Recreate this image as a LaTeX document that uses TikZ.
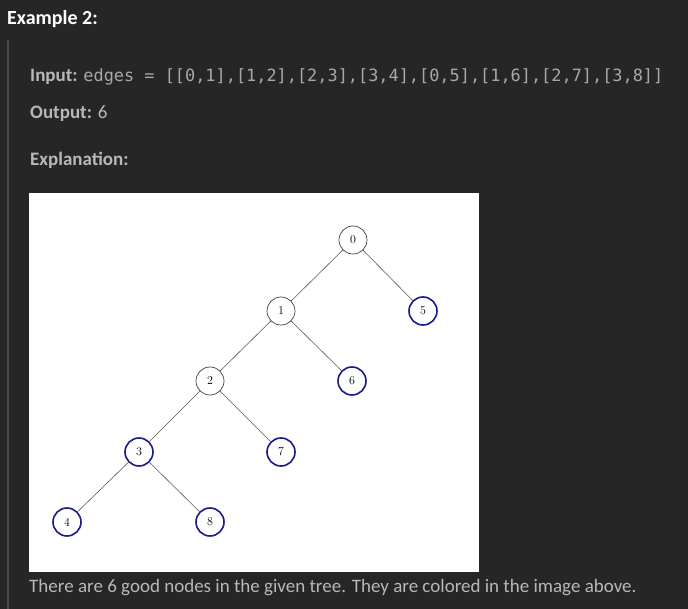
\documentclass[tikz,border=0pt]{standalone}
\usepackage{fontspec}
\setmainfont{Carlito}
\newfontfamily\codefont{DejaVu Sans Mono}
\newfontfamily\treefont{Latin Modern Roman}
\definecolor{pagebg}{HTML}{262626}
\definecolor{quotebar}{HTML}{474747}
\definecolor{bodytext}{HTML}{B8B8B8}
\definecolor{codetext}{HTML}{A8A8A8}
\definecolor{goodnode}{HTML}{1A1A8C}
\begin{document}
\begin{tikzpicture}[x=1pt,y=-1pt,
  every node/.style={inner sep=0pt},
  txt/.style={anchor=base west,text=bodytext,font=\fontsize{19}{22}\selectfont},
  plain/.style={circle,draw=black!75,line width=0.7pt,minimum size=28pt,fill=white,font=\treefont\fontsize{12}{14}\selectfont},
  good/.style={plain,draw=goodnode,line width=1.6pt},
  edge/.style={draw=black!65,line width=0.6pt}]
\useasboundingbox (0,0) rectangle (688,609);
\fill [pagebg] (0,0) rectangle (688,609);
\fill [quotebar] (7,40) rectangle (9,609);
\fill [white] (29,193) rectangle (479,572);
\node [txt,text=white,font=\bfseries\fontsize{20}{22}\selectfont] (title) at (7,25) {Example 2:};
\node [txt] (input) at (30,82) {\textbf{Input:} {\color{codetext}\codefont\fontsize{16.9}{20}\selectfont edges = [[0,1],[1,2],[2,3],[3,4],[0,5],[1,6],[2,7],[3,8]]}};
\node [txt] (output) at (30,119) {\textbf{Output:} 6};
\node [txt] (expl) at (30,166) {\textbf{Explanation:}};
\node [plain] (n0) at (353,240) {0};
\node [plain] (n1) at (281,311) {1};
\node [good] (n5) at (423,311) {5};
\node [plain] (n2) at (210,381) {2};
\node [good] (n6) at (352,381) {6};
\node [good] (n3) at (139,452) {3};
\node [good] (n7) at (281,452) {7};
\node [good] (n4) at (67,522) {4};
\node [good] (n8) at (210,522) {8};
\foreach \a/\b in {n0/n1,n1/n2,n2/n3,n3/n4,n0/n5,n1/n6,n2/n7,n3/n8}
  \draw [edge] (\a) -- (\b);
\node [txt] (note) at (29,592) {There are 6 good nodes in the given tree. They are colored in the image above.};
\end{tikzpicture}
\end{document}
